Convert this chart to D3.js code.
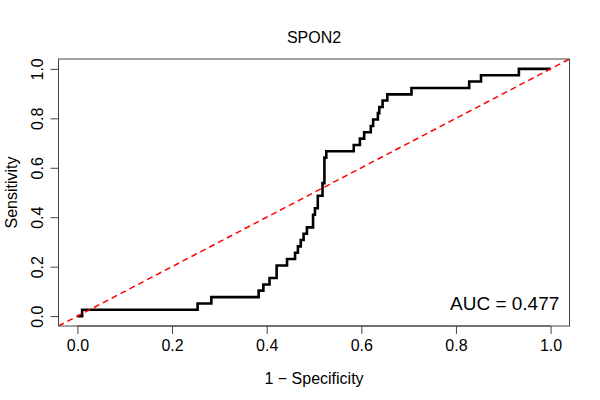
<!DOCTYPE html>
<html>
<head>
<meta charset="utf-8">
<script src="https://cdn.jsdelivr.net/npm/d3@7"></script>
<style>
  body { margin: 0; background: #fff; }
  svg { font-family: "Liberation Sans", Arial, sans-serif; }
</style>
</head>
<body>
<div id="frame"></div>
<script>
'use strict'

// ROC corner points: 1 - specificity where sensitivity rises, and the new sensitivity
var fpr = [0, 0.01, 0.254, 0.283, 0.383, 0.393, 0.406, 0.421, 0.443, 0.460,
  0.466, 0.472, 0.478, 0.485, 0.498, 0.502, 0.508, 0.518, 0.522, 0.526,
  0.584, 0.597, 0.606, 0.620, 0.625, 0.635, 0.638, 0.645, 0.655, 0.706,
  0.828, 0.853, 0.933, 1.0]
var sens = [0, 0.026, 0.051, 0.077, 0.103, 0.128, 0.154, 0.205, 0.231, 0.256,
  0.282, 0.308, 0.333, 0.359, 0.410, 0.436, 0.487, 0.538, 0.641, 0.667,
  0.692, 0.718, 0.744, 0.769, 0.795, 0.821, 0.846, 0.872, 0.897, 0.923,
  0.949, 0.974, 1.0, 1.0]
var ticks = [0, 0.2, 0.4, 0.6, 0.8, 1.0]
var title = "SPON2"
var aucLabel = "AUC = 0.477"

var W = 600, H = 400
var box = { left: 58.5, right: 569.5, top: 59, bottom: 326 }
var fs = 16

var svg = d3.select("#frame").append("svg")
  .attr("width", W)
  .attr("height", H)

// R style: data range padded by 4% each side
var x = d3.scaleLinear().domain([-0.04, 1.04]).range([box.left, box.right])
var y = d3.scaleLinear().domain([-0.04, 1.04]).range([box.bottom, box.top])

svg.append("defs").append("clipPath")
  .attr("id", "plotclip")
  .append("rect")
  .attr("x", box.left)
  .attr("y", box.top)
  .attr("width", box.right - box.left)
  .attr("height", box.bottom - box.top)

var pts = fpr.map((f, i) => [f, sens[i]])

var line = d3.line()
  .x(d => x(d[0]))
  .y(d => y(d[1]))
  .curve(d3.curveStepAfter)

svg.append("path")
  .datum(pts)
  .attr("d", line)
  .attr("fill", "none")
  .attr("stroke", "#000")
  .attr("stroke-width", 2.6)
  .attr("stroke-linejoin", "miter")

// chance diagonal, abline(0, 1), clipped to the plot box
svg.append("line")
  .attr("clip-path", "url(#plotclip)")
  .attr("x1", x(-0.04)).attr("y1", y(-0.04))
  .attr("x2", x(1.04)).attr("y2", y(1.04))
  .attr("stroke", "#ff0000")
  .attr("stroke-width", 1.5)
  .attr("stroke-dasharray", "6,4")

svg.append("rect")
  .attr("x", box.left)
  .attr("y", box.top)
  .attr("width", box.right - box.left)
  .attr("height", box.bottom - box.top)
  .attr("fill", "none")
  .attr("stroke", "#444")
  .attr("stroke-width", 1)

var xAxis = svg.append("g")
  .attr("transform", "translate(0," + box.bottom + ")")
  .call(d3.axisBottom(x).tickValues(ticks).tickSize(8).tickPadding(6)
    .tickFormat(d3.format(".1f")))
xAxis.select(".domain")
  .attr("d", "M" + x(0) + ",0H" + x(1))
  .attr("stroke", "#444")
xAxis.selectAll(".tick line").attr("stroke", "#444")
xAxis.selectAll(".tick text")
  .attr("fill", "#000")
  .style("font-size", fs + "px")
  .style("font-family", "Liberation Sans, Arial, sans-serif")

var yAxis = svg.append("g")
  .attr("transform", "translate(" + box.left + ",0)")
  .call(d3.axisLeft(y).tickValues(ticks).tickSize(8)
    .tickFormat(d3.format(".1f")))
yAxis.select(".domain")
  .attr("d", "M0," + y(0) + "V" + y(1))
  .attr("stroke", "#444")
yAxis.selectAll(".tick line").attr("stroke", "#444")
yAxis.selectAll(".tick text")
  .attr("x", null).attr("dy", null)
  .attr("text-anchor", "middle")
  .attr("transform", "translate(-16,0) rotate(-90)")
  .attr("fill", "#000")
  .style("font-size", fs + "px")
  .style("font-family", "Liberation Sans, Arial, sans-serif")

svg.append("text")
  .attr("x", (box.left + box.right) / 2)
  .attr("y", 43)
  .attr("text-anchor", "middle")
  .style("font-size", fs + "px")
  .text(title)

svg.append("text")
  .attr("x", (box.left + box.right) / 2)
  .attr("y", 384)
  .attr("text-anchor", "middle")
  .style("font-size", fs + "px")
  .text("1 \u2212 Specificity")

svg.append("text")
  .attr("transform", "translate(17," + (box.top + box.bottom) / 2 + ") rotate(-90)")
  .attr("text-anchor", "middle")
  .style("font-size", fs + "px")
  .text("Sensitivity")

svg.append("text")
  .attr("x", 450)
  .attr("y", 310)
  .style("font-size", "19px")
  .text(aucLabel)
</script>
</body>
</html>
